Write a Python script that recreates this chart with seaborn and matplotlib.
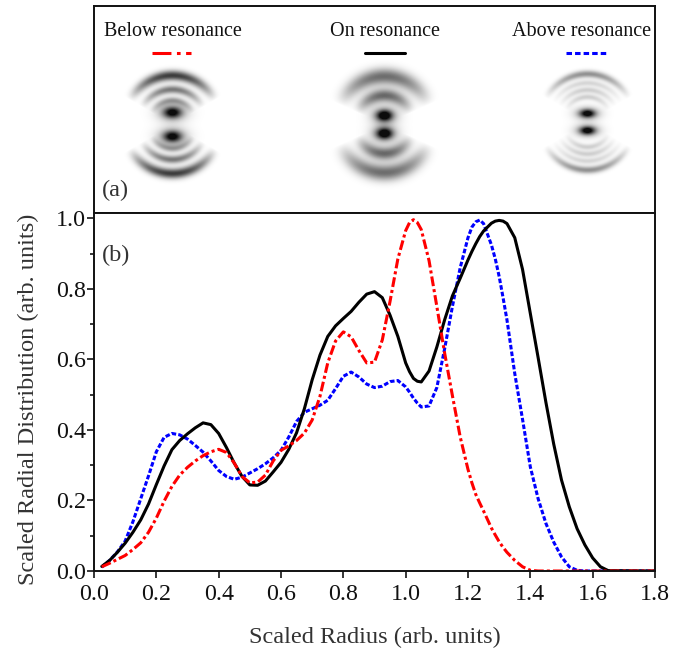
import numpy as np
import pandas as pd
import matplotlib
matplotlib.use("Agg")
import matplotlib.pyplot as plt
from matplotlib.ticker import MultipleLocator
import seaborn as sns

sns.set_style("ticks")
plt.rcParams['font.family'] = ['Liberation Serif', 'DejaVu Serif']

radius = [.025,.05,.075,.1,.125,.15,.175,.2,.225,.25,.275,.3,.325,.35,.375,.4,.425,.45,.475,.5,
          .525,.55,.575,.6,.625,.65,.675,.7,.725,.75,.775,.8,.825,.85,.875,.9,.925,.95,.975,1.0,
          1.0125,1.025,1.0375,1.05,1.075,1.1,1.125,1.15,1.175,1.2,1.2125,1.225,1.2375,1.25,1.275,1.2875,1.3,1.3125,1.325,1.35,1.375,1.4,
          1.425,1.45,1.475,1.5,1.525,1.55,1.575,1.6,1.625,1.65,1.8]
on_y = [.013,.03,.053,.079,.11,.145,.19,.245,.298,.344,.37,.389,.406,.42,.415,.39,.35,.306,.268,.244,
        .243,.255,.281,.308,.345,.392,.46,.542,.612,.665,.695,.716,.736,.762,.785,.792,.775,.725,.665,.59,
        .565,.546,.538,.536,.567,.635,.712,.78,.83,.882,.906,.928,.948,.964,.986,.992,.994,.992,.985,.945,.855,.73,
        .605,.478,.36,.258,.182,.12,.074,.037,.012,.001,0]
below_y = [.012,.022,.033,.044,.061,.08,.11,.15,.198,.24,.272,.294,.312,.327,.338,.345,.336,.306,.268,.25,
           .252,.272,.312,.342,.355,.37,.391,.428,.495,.59,.652,.678,.664,.625,.59,.592,.655,.765,.885,.965,
           .988,.996,.988,.968,.88,.75,.618,.497,.38,.288,.25,.217,.193,.17,.122,.102,.083,.067,.053,.03,.012,.002,
           0,0,0,0,0,0,0,0,0,0,0]
above_y = [.011,.03,.054,.085,.14,.205,.27,.338,.379,.39,.386,.374,.356,.337,.312,.285,.268,.26,.266,.278,
           .29,.304,.321,.342,.38,.424,.45,.46,.47,.484,.517,.552,.564,.55,.53,.52,.524,.537,.54,.522,
           .507,.49,.476,.465,.468,.52,.63,.75,.86,.945,.975,.99,.995,.985,.925,.885,.835,.775,.712,.56,.43,.295,
           .205,.135,.082,.04,.012,.002,0,0,0,0,0]

series_names = ["Below resonance", "On resonance", "Above resonance"]
series_colors = ["#ff0000", "#000000", "#0000ff"]
x_ticks = [0.0, 0.2, 0.4, 0.6, 0.8, 1.0, 1.2, 1.4, 1.6, 1.8]
y_ticks = [0.0, 0.2, 0.4, 0.6, 0.8, 1.0]

ring_cx = [172, 384, 587]
ring_cy = [124, 124, 121.5]
ring_radii = [[49, 35, 24], [48, 29], [48, 39, 32, 25]]
ring_weights = [[.8, .55, .38], [.6, .62], [.45, .17, .2, .2]]
ring_widths = [[5, 4, 3.5], [8, 6.5], [3.6, 3, 3, 3]]
ring_span = [60, 66, 60]
blob_sep = [12, 9, 8.5]
blob_weight = [.8, .95, .85]
blob_size = [(9, 5.5), (8, 5.5), (7.5, 4)]

W, H = 692, 653
fig = plt.figure(figsize=(W / 100, H / 100), dpi=100)
L, R, T, M, B = 94, 655, 6, 213, 571
ax_a = fig.add_axes([L / W, 1 - M / H, (R - L) / W, (M - T) / H])
ax_b = fig.add_axes([L / W, 1 - B / H, (R - L) / W, (B - M) / H])

# panel (a)
yy, xx = np.mgrid[T:M, L:R].astype(float)
img = np.zeros_like(xx)
for i in range(3):
    dx = xx - ring_cx[i]
    dy = yy - ring_cy[i]
    r = np.hypot(dx, dy)
    ang = np.arctan2(np.abs(dx), np.abs(dy))
    mask = np.clip(np.cos(ang * 90 / ring_span[i]), 0, 1) ** 0.9
    mask = np.where(np.degrees(ang) > ring_span[i], 0, mask)
    v = np.zeros_like(xx)
    for rr, w, s in zip(ring_radii[i], ring_weights[i], ring_widths[i]):
        v += w * np.exp(-((r - rr) / s) ** 2) * mask
    sx, sy = blob_size[i]
    for sgn in (-1, 1):
        v += blob_weight[i] * np.exp(-(dx / sx) ** 2 - ((dy - sgn * blob_sep[i]) / sy) ** 2)
        v += .35 * np.exp(-(dx / (sx * 1.7)) ** 2 - ((dy - sgn * blob_sep[i]) / (sy * 1.7)) ** 2)
    img += np.clip(v, 0, 1)
ax_a.imshow(img, cmap="gray_r", vmin=0, vmax=1.05, extent=(L, R, M, T), aspect="auto", interpolation="bilinear")
ax_a.set_xlim(L, R)
ax_a.set_ylim(M, T)
ax_a.set_xticks([])
ax_a.set_yticks([])

label_x = [172.5, 385.5, 582]
key_x = [(152, 191), (365, 405), (566, 608)]
key_ls = [(0, (6.2, 1.8, 1.2, 1.8)), "-", (0, (1.8, 1))]
for name, c, lx, kx, ls in zip(series_names, series_colors, label_x, key_x, key_ls):
    ax_a.text(lx, 31, name, ha="center", va="center", fontsize=14.5, color="#111111")
    ax_a.plot(kx, [53, 53], color=c, lw=2.2, ls=ls)
ax_a.text(102, 190, "(a)", ha="left", va="center", fontsize=17.5, color="#333333")

# panel (b)
curve_ls = [(0, (3.2, 1, 1, 1)), "-", (0, (1.5, 0.7))]
df = pd.DataFrame({"radius": radius, series_names[0]: below_y, series_names[1]: on_y, series_names[2]: above_y})
for idx in [2, 1, 0]:
    sns.lineplot(data=df, x="radius", y=series_names[idx], ax=ax_b, color=series_colors[idx], lw=2.2,
                 sort=False, estimator=None, errorbar=None, linestyle=curve_ls[idx], legend=False,
                 solid_joinstyle="round", dash_joinstyle="round")
ax_b.set_xlim(0, 1.8)
ax_b.set_ylim(0, 1.015)
ax_b.set_xticks(x_ticks)
ax_b.set_xticklabels([f"{v:.1f}" for v in x_ticks])
ax_b.set_yticks(y_ticks)
ax_b.set_yticklabels([f"{v:.1f}" for v in y_ticks])
ax_b.yaxis.set_minor_locator(MultipleLocator(0.1))
ax_b.tick_params(axis="both", which="major", direction="out", length=5, width=1.3, labelsize=17.3, pad=1, labelcolor="#111111")
ax_b.tick_params(axis="x", which="major", pad=4)
ax_b.tick_params(axis="y", which="minor", direction="out", length=3, width=1.3)
ax_b.set_xlabel("Scaled Radius (arb. units)", fontsize=17.5, labelpad=16, color="#333333")
ax_b.set_ylabel("Scaled Radial Distribution (arb. units)", fontsize=17.5, color="#333333")
ax_b.yaxis.set_label_coords((39 - L) / (R - L), (B - 399) / (B - M))
ax_b.text(102, 255, "(b)", transform=ax_a.transData, ha="left", va="center", fontsize=17.5, color="#333333")

for ax in (ax_a, ax_b):
    for s in ax.spines.values():
        s.set_visible(True)
        s.set_linewidth(1.4)
        s.set_color("#111111")

fig.savefig("out.png", dpi=100)
